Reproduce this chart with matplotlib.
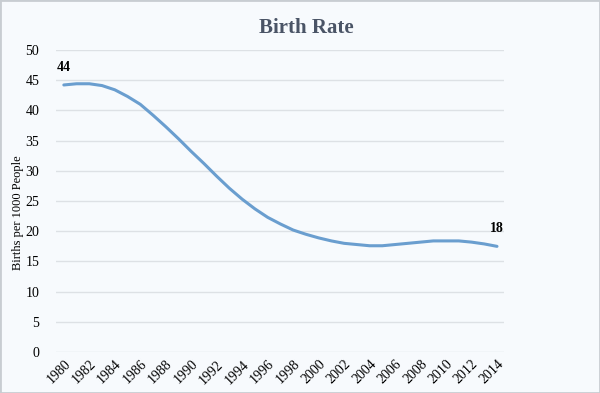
import matplotlib.pyplot as plt
from matplotlib.patches import Rectangle

plt.switch_backend('Agg')
plt.rcParams['font.family'] = ['Liberation Serif', 'DejaVu Serif']
plt.rcParams['font.size'] = 10

years = list(range(1980, 2015))
birth_rate = [44.2, 44.4, 44.4, 44.1, 43.4, 42.3, 41.0, 39.2, 37.3, 35.3,
              33.2, 31.2, 29.1, 27.1, 25.3, 23.7, 22.3, 21.2, 20.2, 19.5,
              18.9, 18.4, 18.0, 17.8, 17.6, 17.6, 17.8, 18.0, 18.2, 18.4,
              18.4, 18.4, 18.2, 17.9, 17.5]
tick_years = list(range(1980, 2015, 2))
yticks = list(range(0, 51, 5))

BG = '#f7fafd'

fig = plt.figure(figsize=(6, 3.93), dpi=100, facecolor=BG)
fig.patches.append(Rectangle((0, 0), 1, 1, transform=fig.transFigure,
                             fill=False, edgecolor='#c8cdd2', linewidth=2))

ax = fig.add_axes([0.093, 0.104, 0.747, 0.769], facecolor=BG)
ax.plot(years, birth_rate, color='#6a9ecf', linewidth=2.2, solid_capstyle='round')

ax.set_xlim(1979.37, 2014.55)
ax.set_ylim(0, 50)
ax.set_yticks(yticks)
ax.set_xticks(tick_years)
ax.set_xticklabels([str(y) for y in tick_years], rotation=45, ha='right',
                   rotation_mode='anchor', fontsize=10)
ax.tick_params(axis='y', labelsize=10, length=0, pad=12)
ax.tick_params(axis='x', length=0, pad=4)
ax.grid(axis='y', color='#dde1e5', linewidth=1)
ax.set_axisbelow(True)
for s in ax.spines.values():
    s.set_visible(False)

fig.text(0.03, 0.46, 'Births per 1000 People', rotation=90, fontsize=9,
         ha='center', va='center')
fig.suptitle('Birth Rate', x=0.51, y=0.955, fontsize=15, fontweight='bold',
             color='#4a5466')

# first and last value labels
ax.annotate(f'{birth_rate[0]:.0f}', (years[0], birth_rate[0]), xytext=(0, 8),
            textcoords='offset points', ha='center', va='bottom',
            fontsize=10, fontweight='bold')
ax.annotate(f'{birth_rate[-1]:.0f}', (years[-1], birth_rate[-1]), xytext=(0, 8),
            textcoords='offset points', ha='center', va='bottom',
            fontsize=10, fontweight='bold')

fig.savefig('out.png', dpi=100, facecolor=BG)
